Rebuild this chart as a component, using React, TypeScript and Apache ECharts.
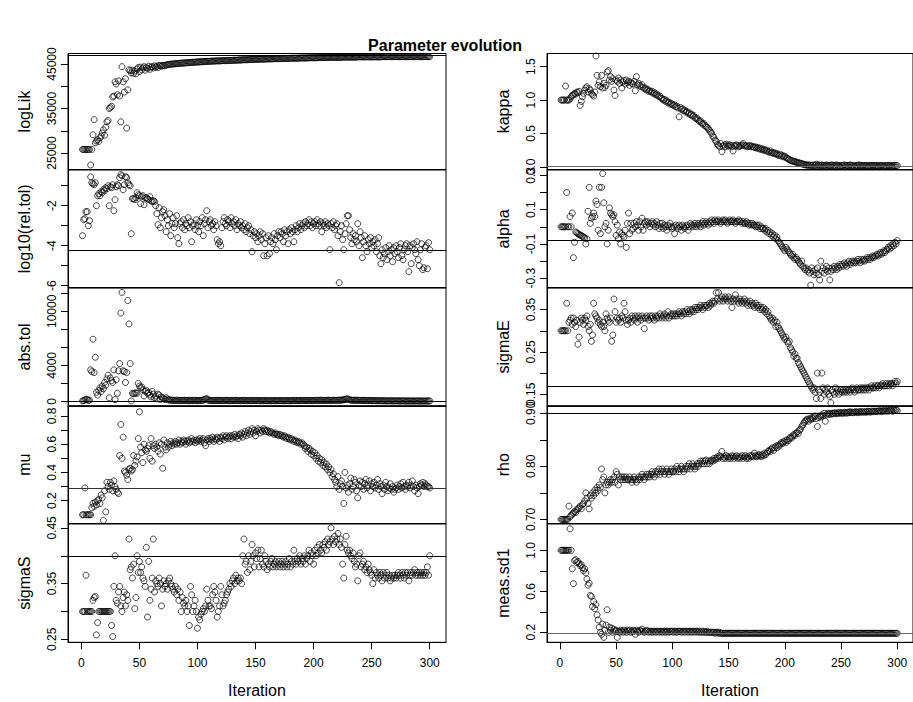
import React, { useEffect, useRef } from "react";
import * as echarts from "echarts";

const FONT = '"Liberation Sans", Arial, Helvetica, sans-serif';

const panelNames = ["logLik", "log10(rel.tol)", "abs.tol", "mu", "sigmaS", "kappa", "alpha", "sigmaE", "rho", "meas.sd1"];

const logLik = [
  25800, 25800, 25800, 25800, 25800, 25800, 25800, 22300, 25800, 29100,
  32500, 27300, 27700, 28000, 27600, 28400, 28800, 29500, 30200, 29000,
  30800, 32000, 32300, 35000, 35200, 35500, 37600, 37800, 41000, 40500,
  38100, 41200, 37800, 32000, 44400, 41000, 38700, 41700, 30600, 39200,
  43700, 43500, 43000, 43600, 42900, 43400, 42800, 43900, 44200, 43300,
  44300, 43700, 44100, 44400, 43600, 44200, 44000, 44500, 43800, 44300,
  44400, 44100, 44600, 44300, 44500, 44200, 44700, 44600, 44500, 44700,
  44700, 44600, 44800, 44800, 44900, 44900, 44950, 45000, 45000, 45050,
  45050, 45100, 45100, 45150, 45150, 45200, 45200, 45200, 45250, 45250,
  45300, 45300, 45300, 45350, 45350, 45400, 45400, 45400, 45450, 45450,
  45450, 45500, 45500, 45500, 45550, 45550, 45550, 45600, 45600, 45600,
  45600, 45650, 45650, 45650, 45650, 45700, 45700, 45700, 45700, 45700,
  45750, 45750, 45750, 45750, 45750, 45800, 45800, 45800, 45800, 45800,
  45850, 45850, 45850, 45850, 45900, 45900, 45900, 45900, 45950, 45950,
  45950, 45950, 45950, 46000, 46000, 46000, 46000, 46000, 46050, 46050,
  46050, 46050, 46050, 46100, 46100, 46100, 46100, 46100, 46100, 46150,
  46150, 46150, 46150, 46150, 46150, 46200, 46200, 46200, 46200, 46200,
  46200, 46200, 46250, 46250, 46250, 46250, 46250, 46250, 46250, 46300,
  46300, 46300, 46300, 46300, 46300, 46300, 46300, 46350, 46350, 46350,
  46350, 46350, 46350, 46350, 46350, 46400, 46400, 46400, 46400, 46400,
  46400, 46400, 46400, 46450, 46450, 46450, 46450, 46450, 46450, 46450,
  46450, 46450, 46500, 46500, 46500, 46500, 46500, 46500, 46500, 46500,
  46500, 46500, 46500, 46500, 46550, 46550, 46550, 46550, 46550, 46550,
  46550, 46550, 46550, 46550, 46550, 46550, 46550, 46600, 46600, 46600,
  46600, 46600, 46600, 46600, 46600, 46600, 46600, 46600, 46600, 46600,
  46600, 46600, 46600, 46600, 46600, 46600, 46600, 46600, 46650, 46650,
  46650, 46650, 46650, 46650, 46650, 46650, 46650, 46650, 46650, 46650,
  46650, 46650, 46650, 46650, 46650, 46650, 46650, 46650, 46650, 46650,
  46650, 46650, 46650, 46650, 46650, 46650, 46650, 46650, 46650, 46650,
  46650, 46650, 46650, 46650, 46650, 46650, 46650, 46650, 46650, 46650,
];

const relTol = [
  -3.5, -2.7, -2.65, -2.3, -2.3, -3.0, -2.75, -0.56, -0.85, -0.9,
  -0.95, -0.85, -2.0, -1.5, -1.4, -1.5, -1.3, -1.35, -1.2, -1.25,
  -1.1, -1.15, -1.0, -2.0, -1.05, -1.1, -0.95, -2.25, -1.7, -1.05,
  -0.95, -1.0, -0.6, -0.45, -0.5, -1.2, -0.95, -0.55, -0.6, -0.85,
  -0.95, -1.0, -3.4, -1.65, -1.65, -1.7, -1.6, -1.35, -1.45, -1.5,
  -1.9, -1.55, -1.5, -1.95, -1.6, -1.6, -1.65, -1.7, -1.55, -1.75,
  -1.8, -1.75, -1.8, -2.0, -2.4, -2.95, -2.1, -3.1, -2.6, -2.3,
  -2.2, -2.5, -3.3, -2.7, -3.0, -2.4, -3.5, -2.9, -2.6, -3.1,
  -2.9, -2.5, -3.6, -3.9, -2.9, -2.8, -3.1, -2.7, -3.2, -2.9,
  -3.0, -2.6, -3.1, -2.8, -3.8, -3.0, -2.9, -3.2, -2.7, -3.0,
  -3.3, -2.8, -3.0, -2.6, -3.5, -2.9, -2.7, -2.25, -3.1, -2.8,
  -2.7, -3.0, -2.9, -3.2, -2.8, -3.0, -3.7, -3.9, -3.8, -4.0,
  -3.1, -2.8, -2.6, -2.9, -3.0, -2.7, -2.8, -3.1, -2.6, -2.9,
  -2.8, -3.0, -2.7, -3.2, -2.9, -3.0, -2.8, -3.1, -3.0, -3.2,
  -2.9, -3.3, -3.1, -3.0, -3.4, -3.2, -4.3, -3.5, -3.3, -3.6,
  -3.4, -3.8, -3.5, -3.3, -3.7, -3.4, -4.5, -3.9, -3.6, -4.5,
  -3.5, -4.4, -3.8, -3.6, -3.9, -3.4, -3.7, -4.2, -3.5, -3.3,
  -3.6, -3.3, -3.4, -3.8, -3.2, -3.5, -3.3, -3.9, -3.2, -3.4,
  -3.1, -3.3, -3.8, -3.2, -3.0, -3.3, -3.1, -2.9, -3.2, -3.0,
  -2.9, -3.1, -2.8, -3.0, -2.9, -2.7, -3.0, -2.8, -3.1, -2.9,
  -2.8, -3.0, -2.7, -2.9, -3.0, -2.8, -3.3, -2.9, -3.0, -2.8,
  -3.1, -2.9, -3.0, -4.2, -2.9, -3.1, -2.8, -3.2, -3.0, -2.9,
  -3.5, -5.85, -3.3, -3.0, -3.7, -4.2, -3.4, -2.9, -2.5, -2.5,
  -3.2, -3.6, -3.9, -3.4, -3.7, -3.5, -3.8, -2.9, -4.0, -3.3,
  -3.6, -4.6, -3.8, -3.5, -4.0, -4.3, -3.7, -3.9, -3.6, -4.1,
  -3.8, -4.0, -3.7, -4.3, -3.9, -3.6, -4.5, -4.9, -4.2, -4.6,
  -4.4, -4.1, -4.7, -4.3, -4.0, -4.5, -4.2, -4.8, -4.1, -4.4,
  -4.0, -4.3, -4.6, -4.1, -3.9, -4.5, -4.7, -4.2, -4.0, -3.9,
  -4.3, -5.3, -4.0, -4.9, -4.1, -3.9, -4.2, -4.4, -3.8, -4.7,
  -5.0, -4.2, -3.9, -5.2, -5.1, -4.1, -4.0, -5.15, -3.85, -4.2,
];

const absTol = [
  50, 100, 150, 250, 200, 100, 150, 3500, 3300, 6900,
  3200, 4900, 1000, 700, 1200, 1500, 1100, 1700, 1400, 2100,
  1800, 2500, 2900, 400, 2600, 2300, 2100, 3500, 200, 2400,
  900, 3400, 4200, 9800, 12100, 3400, 3300, 2100, 3200, 11200,
  8600, 4200, 50, 900, 850, 900, 950, 900, 2000, 1700,
  1500, 1600, 1300, 600, 1100, 1200, 900, 1000, 700, 500,
  1100, 800, 400, 600, 300, 800, 700, 200, 500, 400,
  300, 200, 400, 250, 150, 200, 100, 150, 120, 100,
  100, 150, 80, 120, 100, 90, 110, 100, 130, 90,
  100, 120, 80, 100, 110, 90, 100, 120, 100, 80,
  100, 110, 90, 120, 150, 200, 250, 320, 180, 120,
  100, 90, 110, 100, 80, 100, 120, 90, 100, 110,
  100, 90, 110, 100, 120, 90, 100, 80, 100, 110,
  90, 100, 110, 100, 90, 100, 80, 100, 110, 90,
  100, 90, 80, 100, 90, 80, 90, 100, 80, 90,
  80, 90, 80, 70, 90, 80, 80, 90, 70, 80,
  90, 80, 70, 80, 90, 80, 70, 80, 90, 80,
  80, 90, 80, 70, 80, 90, 80, 80, 70, 90,
  80, 90, 100, 80, 90, 100, 90, 80, 100, 90,
  100, 90, 110, 100, 90, 100, 110, 100, 90, 100,
  110, 100, 120, 100, 110, 130, 100, 120, 110, 100,
  120, 110, 130, 120, 100, 110, 130, 120, 110, 120,
  130, 140, 120, 150, 160, 180, 200, 250, 300, 220,
  180, 150, 130, 120, 140, 120, 110, 130, 120, 110,
  100, 110, 120, 100, 90, 100, 110, 90, 100, 90,
  80, 90, 80, 70, 80, 70, 80, 70, 60, 70,
  60, 70, 60, 50, 60, 70, 60, 50, 60, 50,
  60, 50, 60, 50, 40, 50, 60, 50, 40, 50,
  50, 40, 50, 40, 50, 40, 50, 40, 50, 40,
  40, 50, 40, 50, 40, 40, 50, 40, 40, 50,
];

const mu = [
  0.10, 0.10, 0.29, 0.10, 0.10, 0.10, 0.10, 0.10, 0.15, 0.18,
  0.16, 0.19, 0.17, 0.20, 0.21, 0.18, 0.24, 0.22, 0.06, 0.27,
  0.12, 0.33, 0.30, 0.28, 0.33, 0.31, 0.27, 0.34, 0.30, 0.28,
  0.26, 0.25, 0.52, 0.74, 0.50, 0.65, 0.41, 0.40, 0.38, 0.35,
  0.42, 0.43, 0.41, 0.42, 0.52, 0.45, 0.48, 0.51, 0.64, 0.83,
  0.58, 0.54, 0.47, 0.60, 0.56, 0.55, 0.57, 0.59, 0.50, 0.64,
  0.48, 0.59, 0.57, 0.60, 0.58, 0.55, 0.61, 0.53, 0.60, 0.43,
  0.63, 0.58, 0.56, 0.61, 0.58, 0.60, 0.62, 0.59, 0.61, 0.60,
  0.62, 0.60, 0.61, 0.63, 0.60, 0.62, 0.61, 0.63, 0.62, 0.60,
  0.62, 0.63, 0.61, 0.62, 0.64, 0.62, 0.63, 0.61, 0.63, 0.62,
  0.63, 0.64, 0.62, 0.63, 0.64, 0.61, 0.59, 0.63, 0.64, 0.62,
  0.64, 0.63, 0.65, 0.62, 0.64, 0.63, 0.65, 0.64, 0.62, 0.65,
  0.64, 0.66, 0.63, 0.65, 0.66, 0.64, 0.65, 0.66, 0.64, 0.66,
  0.65, 0.67, 0.65, 0.66, 0.64, 0.67, 0.66, 0.68, 0.65, 0.67,
  0.69, 0.66, 0.68, 0.70, 0.67, 0.69, 0.71, 0.68, 0.70, 0.66,
  0.69, 0.71, 0.70, 0.68, 0.70, 0.69, 0.71, 0.70, 0.69, 0.70,
  0.69, 0.68, 0.69, 0.68, 0.68, 0.67, 0.68, 0.67, 0.67, 0.66,
  0.67, 0.66, 0.66, 0.65, 0.66, 0.65, 0.64, 0.65, 0.64, 0.63,
  0.64, 0.63, 0.62, 0.63, 0.62, 0.61, 0.62, 0.61, 0.60, 0.61,
  0.60, 0.59, 0.57, 0.58, 0.55, 0.57, 0.56, 0.53, 0.55, 0.52,
  0.54, 0.50, 0.52, 0.48, 0.50, 0.47, 0.49, 0.45, 0.47, 0.44,
  0.46, 0.42, 0.44, 0.40, 0.42, 0.37, 0.39, 0.35, 0.33, 0.30,
  0.37, 0.28, 0.32, 0.34, 0.30, 0.18, 0.40, 0.29, 0.31, 0.26,
  0.32, 0.36, 0.28, 0.30, 0.35, 0.33, 0.27, 0.22, 0.31, 0.34,
  0.30, 0.33, 0.28, 0.32, 0.35, 0.29, 0.31, 0.34, 0.27, 0.32,
  0.30, 0.33, 0.29, 0.31, 0.35, 0.28, 0.32, 0.30, 0.25, 0.31,
  0.28, 0.33, 0.30, 0.27, 0.29, 0.32, 0.28, 0.30, 0.26, 0.28,
  0.29, 0.31, 0.28, 0.30, 0.32, 0.29, 0.33, 0.30, 0.28, 0.31,
  0.30, 0.33, 0.29, 0.31, 0.34, 0.30, 0.27, 0.31, 0.29, 0.25,
  0.30, 0.32, 0.31, 0.33, 0.30, 0.32, 0.31, 0.30, 0.30, 0.29,
];

const sigmaS = [
  0.30, 0.30, 0.30, 0.365, 0.30, 0.30, 0.30, 0.30, 0.30, 0.32,
  0.325, 0.327, 0.258, 0.28, 0.30, 0.30, 0.30, 0.30, 0.30, 0.30,
  0.30, 0.30, 0.30, 0.30, 0.30, 0.275, 0.255, 0.345, 0.40, 0.32,
  0.315, 0.335, 0.345, 0.31, 0.30, 0.325, 0.335, 0.31, 0.33, 0.32,
  0.43, 0.375, 0.38, 0.36, 0.385, 0.305, 0.325, 0.40, 0.37, 0.39,
  0.37, 0.38, 0.36, 0.355, 0.345, 0.415, 0.29, 0.39, 0.32, 0.34,
  0.36, 0.43, 0.335, 0.355, 0.35, 0.345, 0.36, 0.35, 0.31, 0.34,
  0.355, 0.345, 0.35, 0.34, 0.355, 0.36, 0.35, 0.345, 0.34, 0.335,
  0.345, 0.33, 0.34, 0.32, 0.335, 0.30, 0.325, 0.315, 0.31, 0.32,
  0.30, 0.31, 0.275, 0.345, 0.33, 0.30, 0.31, 0.32, 0.30, 0.27,
  0.29, 0.285, 0.295, 0.30, 0.305, 0.30, 0.31, 0.34, 0.32, 0.31,
  0.31, 0.305, 0.33, 0.345, 0.335, 0.32, 0.29, 0.30, 0.31, 0.345,
  0.33, 0.31, 0.315, 0.32, 0.33, 0.335, 0.34, 0.35, 0.345, 0.355,
  0.36, 0.35, 0.365, 0.355, 0.36, 0.355, 0.36, 0.35, 0.40, 0.43,
  0.385, 0.39, 0.37, 0.40, 0.375, 0.39, 0.42, 0.40, 0.38, 0.405,
  0.395, 0.41, 0.38, 0.395, 0.41, 0.385, 0.38, 0.40, 0.39, 0.375,
  0.385, 0.38, 0.39, 0.395, 0.38, 0.385, 0.39, 0.38, 0.385, 0.39,
  0.38, 0.385, 0.39, 0.38, 0.385, 0.39, 0.38, 0.385, 0.395, 0.38,
  0.39, 0.385, 0.41, 0.39, 0.385, 0.395, 0.39, 0.40, 0.385, 0.395,
  0.39, 0.40, 0.385, 0.395, 0.40, 0.41, 0.39, 0.405, 0.40, 0.385,
  0.41, 0.40, 0.415, 0.405, 0.42, 0.41, 0.405, 0.42, 0.415, 0.425,
  0.41, 0.43, 0.42, 0.425, 0.45, 0.43, 0.42, 0.435, 0.425, 0.43,
  0.44, 0.42, 0.43, 0.415, 0.385, 0.36, 0.42, 0.435, 0.41, 0.405,
  0.41, 0.40, 0.395, 0.405, 0.39, 0.38, 0.385, 0.355, 0.40, 0.405,
  0.38, 0.385, 0.39, 0.375, 0.38, 0.37, 0.385, 0.375, 0.37, 0.365,
  0.35, 0.375, 0.36, 0.37, 0.365, 0.36, 0.37, 0.365, 0.355, 0.37,
  0.36, 0.365, 0.37, 0.36, 0.365, 0.355, 0.36, 0.365, 0.36, 0.365,
  0.36, 0.365, 0.37, 0.365, 0.36, 0.37, 0.365, 0.36, 0.37, 0.365,
  0.37, 0.355, 0.365, 0.37, 0.365, 0.37, 0.375, 0.365, 0.37, 0.365,
  0.37, 0.365, 0.37, 0.365, 0.37, 0.365, 0.37, 0.38, 0.365, 0.40,
];

const kappa = [
  1.0, 1.0, 1.0, 1.0, 1.21, 1.0, 1.0, 1.0, 1.02, 1.05,
  1.07, 1.08, 1.10, 1.09, 1.12, 1.11, 1.13, 0.92, 0.98, 1.05,
  1.10, 1.15, 1.18, 1.20, 1.12, 1.17, 1.15, 1.10, 1.08, 1.06,
  1.12, 1.66, 1.37, 1.22, 1.27, 1.20, 1.37, 1.18, 1.25, 1.19,
  1.22, 1.42, 1.44, 1.30, 1.35, 1.28, 1.32, 1.15, 1.07, 1.30,
  1.28, 1.33, 1.25, 1.30, 1.18, 1.27, 1.29, 1.24, 1.30, 1.26,
  1.28, 1.22, 1.27, 1.25, 1.24, 1.28, 1.14, 1.35, 1.23, 1.25,
  1.22, 1.20, 1.23, 1.19, 1.17, 1.18, 1.15, 1.16, 1.13, 1.14,
  1.12, 1.13, 1.10, 1.11, 1.08, 1.09, 1.07, 1.05, 1.06, 1.03,
  1.02, 1.00, 1.01, 0.98, 0.99, 0.96, 0.97, 0.94, 0.95, 0.93,
  0.92, 0.93, 0.90, 0.91, 0.88, 0.75, 0.89, 0.86, 0.87, 0.84,
  0.85, 0.82, 0.83, 0.80, 0.81, 0.78, 0.79, 0.76, 0.77, 0.74,
  0.72, 0.73, 0.70, 0.68, 0.69, 0.66, 0.64, 0.65, 0.62, 0.60,
  0.59, 0.57, 0.55, 0.52, 0.50, 0.46, 0.44, 0.40, 0.38, 0.34,
  0.32, 0.30, 0.35, 0.23, 0.31, 0.33, 0.30, 0.34, 0.32, 0.31,
  0.33, 0.32, 0.30, 0.24, 0.32, 0.31, 0.33, 0.32, 0.30, 0.31,
  0.32, 0.33, 0.35, 0.32, 0.31, 0.32, 0.30, 0.31, 0.32, 0.30,
  0.31, 0.30, 0.29, 0.30, 0.28, 0.29, 0.27, 0.28, 0.26, 0.27,
  0.25, 0.26, 0.24, 0.25, 0.23, 0.22, 0.24, 0.21, 0.22, 0.20,
  0.21, 0.19, 0.20, 0.18, 0.17, 0.19, 0.16, 0.17, 0.15, 0.16,
  0.14, 0.13, 0.12, 0.11, 0.10, 0.09, 0.09, 0.08, 0.08, 0.07,
  0.07, 0.06, 0.06, 0.05, 0.05, 0.04, 0.04, 0.03, 0.03, 0.03,
  0.02, 0.03, 0.02, 0.02, 0.03, 0.02, 0.02, 0.04, 0.02, 0.03,
  0.02, 0.02, 0.03, 0.02, 0.02, 0.02, 0.03, 0.02, 0.02, 0.02,
  0.02, 0.03, 0.02, 0.02, 0.02, 0.03, 0.02, 0.02, 0.01, 0.02,
  0.02, 0.02, 0.03, 0.02, 0.02, 0.02, 0.02, 0.03, 0.02, 0.02,
  0.02, 0.01, 0.02, 0.02, 0.02, 0.03, 0.02, 0.02, 0.02, 0.02,
  0.02, 0.02, 0.02, 0.01, 0.02, 0.02, 0.02, 0.02, 0.02, 0.02,
  0.02, 0.02, 0.01, 0.02, 0.02, 0.02, 0.02, 0.01, 0.02, 0.02,
  0.02, 0.02, 0.02, 0.02, 0.01, 0.02, 0.02, 0.02, 0.02, 0.02,
];

const alpha = [
  0.0, 0.0, 0.0, 0.0, 0.0, 0.2, 0.0, 0.0, 0.06, 0.0,
  0.08, -0.18, -0.09, -0.03, -0.035, -0.04, -0.045, -0.05, -0.05, -0.055,
  -0.06, -0.065, -0.1, -0.07, 0.09, 0.23, 0.02, 0.05, 0.06, 0.08,
  0.06, 0.15, 0.13, -0.02, 0.23, -0.04, 0.23, 0.31, 0.14, 0.0,
  0.02, -0.1, -0.02, 0.11, 0.08, 0.07, 0.06, 0.07, 0.03, -0.05,
  0.01, -0.07, -0.03, -0.1, -0.04, -0.05, -0.06, -0.02, -0.12, 0.02,
  0.08, -0.04, 0.02, -0.02, -0.01, 0.02, 0.0, 0.03, 0.01, -0.02,
  0.03, 0.0, 0.05, -0.02, 0.02, 0.03, 0.01, 0.03, 0.02, 0.0,
  0.02, 0.03, 0.01, 0.02, 0.0, 0.03, 0.01, -0.01, 0.02, 0.0,
  0.02, -0.01, 0.01, 0.0, -0.02, 0.01, 0.0, 0.02, 0.0, -0.01,
  0.0, -0.04, 0.01, 0.0, -0.01, 0.01, 0.0, -0.02, 0.01, 0.0,
  -0.01, 0.0, 0.01, -0.02, 0.0, 0.02, 0.01, 0.0, 0.01, 0.02,
  0.0, 0.01, 0.02, 0.01, 0.0, 0.02, 0.03, 0.01, 0.02, 0.03,
  0.02, 0.01, 0.03, 0.02, 0.04, 0.03, 0.02, 0.04, 0.03, 0.03,
  0.04, 0.03, 0.02, 0.03, 0.04, 0.03, 0.04, 0.03, 0.02, 0.03,
  0.04, 0.03, 0.03, 0.04, 0.03, 0.02, 0.03, 0.03, 0.04, 0.03,
  0.03, 0.02, 0.03, 0.02, 0.02, 0.03, 0.02, 0.01, 0.02, 0.01,
  0.02, 0.01, 0.01, 0.0, 0.01, 0.0, 0.01, -0.01, 0.0, -0.01,
  -0.01, -0.02, -0.01, -0.03, -0.02, -0.04, -0.03, -0.05, -0.04, -0.06,
  -0.05, -0.07, -0.06, -0.08, -0.09, -0.1, -0.11, -0.12, -0.13, -0.14,
  -0.12, -0.13, -0.14, -0.15, -0.16, -0.17, -0.16, -0.18, -0.19, -0.18,
  -0.19, -0.2, -0.21, -0.22, -0.2, -0.23, -0.24, -0.25, -0.24, -0.26,
  -0.25, -0.27, -0.34, -0.24, -0.26, -0.28, -0.25, -0.27, -0.24, -0.28,
  -0.31, -0.2, -0.26, -0.24, -0.27, -0.25, -0.23, -0.26, -0.24, -0.31,
  -0.26, -0.24, -0.25, -0.23, -0.24, -0.25, -0.23, -0.24, -0.22, -0.23,
  -0.22, -0.23, -0.21, -0.22, -0.23, -0.21, -0.2, -0.22, -0.21, -0.2,
  -0.21, -0.2, -0.21, -0.2, -0.19, -0.2, -0.21, -0.19, -0.2, -0.19,
  -0.2, -0.19, -0.18, -0.19, -0.18, -0.19, -0.18, -0.17, -0.18, -0.17,
  -0.17, -0.16, -0.17, -0.16, -0.15, -0.16, -0.15, -0.14, -0.15, -0.14,
  -0.13, -0.12, -0.13, -0.11, -0.12, -0.1, -0.11, -0.09, -0.1, -0.08,
];

const sigmaE = [
  0.30, 0.30, 0.30, 0.30, 0.30, 0.365, 0.30, 0.32, 0.325, 0.33,
  0.315, 0.33, 0.32, 0.31, 0.325, 0.268, 0.285, 0.32, 0.33, 0.325,
  0.315, 0.33, 0.325, 0.335, 0.31, 0.30, 0.315, 0.275, 0.29, 0.365,
  0.34, 0.335, 0.33, 0.32, 0.325, 0.315, 0.31, 0.32, 0.31, 0.30,
  0.34, 0.33, 0.325, 0.32, 0.33, 0.275, 0.29, 0.375, 0.345, 0.32,
  0.33, 0.325, 0.33, 0.32, 0.335, 0.33, 0.365, 0.345, 0.325, 0.315,
  0.325, 0.33, 0.32, 0.335, 0.33, 0.325, 0.335, 0.33, 0.32, 0.335,
  0.33, 0.325, 0.335, 0.33, 0.305, 0.33, 0.335, 0.33, 0.325, 0.335,
  0.33, 0.335, 0.33, 0.325, 0.335, 0.33, 0.335, 0.33, 0.34, 0.335,
  0.33, 0.335, 0.34, 0.33, 0.335, 0.345, 0.33, 0.335, 0.34, 0.335,
  0.34, 0.335, 0.34, 0.335, 0.34, 0.345, 0.34, 0.335, 0.345, 0.34,
  0.345, 0.34, 0.35, 0.345, 0.34, 0.35, 0.345, 0.35, 0.345, 0.355,
  0.35, 0.355, 0.35, 0.355, 0.36, 0.355, 0.35, 0.36, 0.355, 0.36,
  0.36, 0.355, 0.365, 0.36, 0.365, 0.37, 0.365, 0.37, 0.39, 0.375,
  0.39, 0.37, 0.375, 0.38, 0.37, 0.375, 0.38, 0.375, 0.37, 0.38,
  0.375, 0.37, 0.355, 0.375, 0.37, 0.385, 0.375, 0.37, 0.365, 0.375,
  0.37, 0.365, 0.37, 0.375, 0.365, 0.37, 0.36, 0.365, 0.37, 0.36,
  0.365, 0.36, 0.355, 0.365, 0.36, 0.355, 0.36, 0.35, 0.355, 0.35,
  0.355, 0.345, 0.35, 0.34, 0.345, 0.335, 0.33, 0.325, 0.33, 0.32,
  0.325, 0.31, 0.32, 0.31, 0.305, 0.30, 0.295, 0.29, 0.285, 0.28,
  0.285, 0.275, 0.27, 0.275, 0.26, 0.255, 0.25, 0.24, 0.245, 0.235,
  0.235, 0.225, 0.22, 0.215, 0.21, 0.205, 0.20, 0.195, 0.19, 0.185,
  0.18, 0.175, 0.17, 0.165, 0.16, 0.165, 0.155, 0.14, 0.20, 0.16,
  0.155, 0.14, 0.20, 0.165, 0.15, 0.16, 0.155, 0.165, 0.15, 0.145,
  0.13, 0.16, 0.155, 0.15, 0.165, 0.155, 0.16, 0.15, 0.155, 0.16,
  0.155, 0.16, 0.155, 0.16, 0.155, 0.16, 0.16, 0.155, 0.16, 0.165,
  0.16, 0.155, 0.16, 0.165, 0.16, 0.16, 0.165, 0.16, 0.165, 0.16,
  0.165, 0.16, 0.165, 0.165, 0.16, 0.165, 0.17, 0.165, 0.165, 0.17,
  0.165, 0.17, 0.17, 0.165, 0.17, 0.17, 0.175, 0.17, 0.17, 0.175,
  0.17, 0.175, 0.17, 0.175, 0.175, 0.17, 0.175, 0.18, 0.175, 0.18,
];

const rho = [
  0.70, 0.70, 0.70, 0.70, 0.70, 0.70, 0.70, 0.725, 0.705, 0.708,
  0.71, 0.712, 0.715, 0.713, 0.718, 0.72, 0.722, 0.725, 0.72, 0.728,
  0.73, 0.735, 0.75, 0.74, 0.73, 0.72, 0.745, 0.74, 0.75, 0.745,
  0.755, 0.75, 0.76, 0.755, 0.765, 0.76, 0.795, 0.775, 0.78, 0.75,
  0.765, 0.77, 0.765, 0.77, 0.775, 0.77, 0.775, 0.78, 0.77, 0.79,
  0.785, 0.765, 0.78, 0.775, 0.78, 0.775, 0.78, 0.775, 0.78, 0.775,
  0.775, 0.78, 0.775, 0.77, 0.775, 0.78, 0.775, 0.77, 0.775, 0.78,
  0.775, 0.78, 0.785, 0.78, 0.775, 0.78, 0.785, 0.78, 0.785, 0.78,
  0.785, 0.79, 0.785, 0.78, 0.79, 0.785, 0.79, 0.795, 0.785, 0.79,
  0.795, 0.79, 0.785, 0.79, 0.795, 0.79, 0.785, 0.79, 0.795, 0.79,
  0.79, 0.795, 0.79, 0.80, 0.795, 0.79, 0.795, 0.80, 0.795, 0.79,
  0.795, 0.80, 0.795, 0.80, 0.805, 0.795, 0.80, 0.805, 0.80, 0.795,
  0.80, 0.805, 0.80, 0.805, 0.81, 0.805, 0.81, 0.805, 0.81, 0.812,
  0.805, 0.81, 0.805, 0.81, 0.812, 0.81, 0.815, 0.812, 0.815, 0.818,
  0.815, 0.82, 0.818, 0.828, 0.815, 0.818, 0.815, 0.82, 0.818, 0.815,
  0.818, 0.815, 0.82, 0.818, 0.815, 0.818, 0.82, 0.815, 0.818, 0.815,
  0.818, 0.82, 0.815, 0.818, 0.82, 0.815, 0.818, 0.815, 0.82, 0.818,
  0.82, 0.818, 0.825, 0.82, 0.818, 0.82, 0.822, 0.82, 0.818, 0.822,
  0.82, 0.825, 0.822, 0.825, 0.828, 0.83, 0.828, 0.832, 0.835, 0.83,
  0.835, 0.838, 0.835, 0.84, 0.838, 0.842, 0.845, 0.843, 0.846, 0.848,
  0.845, 0.85, 0.848, 0.852, 0.855, 0.853, 0.857, 0.86, 0.858, 0.862,
  0.865, 0.862, 0.868, 0.87, 0.875, 0.878, 0.882, 0.885, 0.887, 0.889,
  0.885, 0.89, 0.888, 0.892, 0.89, 0.893, 0.895, 0.89, 0.875, 0.892,
  0.895, 0.893, 0.897, 0.895, 0.90, 0.885, 0.897, 0.90, 0.898, 0.90,
  0.898, 0.90, 0.899, 0.901, 0.90, 0.899, 0.901, 0.90, 0.902, 0.90,
  0.901, 0.90, 0.902, 0.901, 0.90, 0.902, 0.901, 0.903, 0.901, 0.902,
  0.901, 0.902, 0.903, 0.902, 0.901, 0.903, 0.902, 0.903, 0.902, 0.903,
  0.902, 0.903, 0.902, 0.904, 0.903, 0.902, 0.904, 0.903, 0.904, 0.903,
  0.904, 0.903, 0.904, 0.905, 0.904, 0.903, 0.905, 0.904, 0.905, 0.904,
  0.905, 0.904, 0.905, 0.906, 0.905, 0.904, 0.906, 0.905, 0.906, 0.905,
];

const measSd1 = [
  1.0, 1.0, 1.0, 1.0, 1.0, 1.0, 1.0, 1.0, 1.21, 1.0,
  0.82, 0.675, 0.90, 0.91, 0.88, 0.89, 0.87, 0.85, 0.86, 0.83,
  0.80, 0.82, 0.78, 0.72, 0.66, 0.68, 0.56, 0.55, 0.45, 0.50,
  0.43, 0.47, 0.37, 0.32, 0.25, 0.20, 0.18, 0.28, 0.15, 0.22,
  0.27, 0.42, 0.20, 0.25, 0.22, 0.24, 0.20, 0.23, 0.21, 0.22,
  0.15, 0.21, 0.20, 0.22, 0.21, 0.20, 0.22, 0.21, 0.20, 0.22,
  0.21, 0.22, 0.20, 0.21, 0.22, 0.21, 0.18, 0.22, 0.21, 0.20,
  0.22, 0.21, 0.23, 0.21, 0.20, 0.21, 0.22, 0.21, 0.20, 0.21,
  0.21, 0.20, 0.21, 0.21, 0.20, 0.21, 0.21, 0.20, 0.21, 0.21,
  0.20, 0.21, 0.21, 0.20, 0.21, 0.21, 0.20, 0.21, 0.21, 0.21,
  0.20, 0.21, 0.21, 0.20, 0.21, 0.21, 0.21, 0.20, 0.21, 0.21,
  0.20, 0.21, 0.21, 0.20, 0.21, 0.21, 0.20, 0.21, 0.21, 0.20,
  0.21, 0.21, 0.20, 0.21, 0.20, 0.21, 0.20, 0.21, 0.20, 0.20,
  0.21, 0.20, 0.20, 0.20, 0.20, 0.20, 0.20, 0.19, 0.20, 0.20,
  0.19, 0.20, 0.19, 0.19, 0.19, 0.19, 0.19, 0.19, 0.19, 0.19,
  0.19, 0.19, 0.19, 0.19, 0.19, 0.19, 0.19, 0.19, 0.19, 0.19,
  0.19, 0.19, 0.19, 0.19, 0.19, 0.19, 0.19, 0.19, 0.19, 0.19,
  0.19, 0.19, 0.19, 0.19, 0.19, 0.19, 0.19, 0.19, 0.19, 0.19,
  0.19, 0.19, 0.19, 0.19, 0.19, 0.19, 0.19, 0.19, 0.19, 0.19,
  0.19, 0.19, 0.19, 0.19, 0.19, 0.19, 0.19, 0.19, 0.19, 0.19,
  0.19, 0.19, 0.19, 0.19, 0.19, 0.19, 0.19, 0.19, 0.19, 0.19,
  0.19, 0.19, 0.19, 0.19, 0.19, 0.19, 0.19, 0.19, 0.19, 0.19,
  0.19, 0.19, 0.19, 0.19, 0.19, 0.19, 0.19, 0.19, 0.19, 0.19,
  0.19, 0.19, 0.19, 0.19, 0.19, 0.19, 0.19, 0.19, 0.19, 0.19,
  0.19, 0.19, 0.19, 0.19, 0.19, 0.19, 0.19, 0.19, 0.19, 0.19,
  0.19, 0.19, 0.19, 0.19, 0.19, 0.19, 0.19, 0.19, 0.19, 0.19,
  0.19, 0.19, 0.19, 0.19, 0.19, 0.19, 0.19, 0.19, 0.19, 0.19,
  0.19, 0.19, 0.19, 0.19, 0.19, 0.19, 0.19, 0.19, 0.19, 0.19,
  0.19, 0.19, 0.19, 0.19, 0.19, 0.19, 0.19, 0.19, 0.19, 0.19,
  0.19, 0.19, 0.19, 0.19, 0.19, 0.19, 0.19, 0.19, 0.19, 0.19,
];

const panelData = [logLik, relTol, absTol, mu, sigmaS, kappa, alpha, sigmaE, rho, measSd1];
const trueValues = [46870, -4.21, 0, 0.29, 0.40, 0.01, -0.084, 0.175, 0.903, 0.186];
const yMins = [21292, -6.1, -490, 0.038, 0.2447, -0.039, -0.355, 0.1227, 0.6923, 0.102];
const yMaxs = [47360, -0.215, 12590, 0.871, 0.457, 1.697, 0.331, 0.401, 0.9137, 1.257];
const yTickValues = [
  [25000, 30000, 35000, 40000, 45000],
  [-6, -5, -4, -3, -2, -1],
  [0, 2000, 4000, 6000, 8000, 10000, 12000],
  [0.2, 0.3, 0.4, 0.5, 0.6, 0.7, 0.8],
  [0.25, 0.3, 0.35, 0.4, 0.45],
  [0, 0.5, 1.0, 1.5],
  [-0.3, -0.2, -0.1, 0, 0.1, 0.2, 0.3],
  [0.15, 0.2, 0.25, 0.3, 0.35],
  [0.7, 0.75, 0.8, 0.85, 0.9],
  [0.2, 0.4, 0.6, 0.8, 1.0],
];
const yLabelValues = [
  [25000, 35000, 45000],
  [-6, -4, -2],
  [0, 4000, 10000],
  [0.2, 0.4, 0.6, 0.8],
  [0.25, 0.35, 0.45],
  [0, 0.5, 1.0, 1.5],
  [-0.3, -0.1, 0.1, 0.3],
  [0.15, 0.25, 0.35],
  [0.7, 0.8, 0.9],
  [0.2, 0.6, 1.0],
];
const yLabelDecimals = [0, 0, 0, 1, 2, 1, 1, 2, 2, 1];
const lineColors = ["#000", "#000", "#000", "#333", "#000", "#666", "#000", "#000", "#000", "#666"];
const xTickValues = [0, 50, 100, 150, 200, 250, 300];

export default function App() {
  const ref = useRef<HTMLDivElement>(null);
  useEffect(() => {
    if (!ref.current) return;
    const chart = echarts.init(ref.current, null, { renderer: "svg" });
    const colLefts = [68, 547];
    const colWidth = 378;
    const rowTops = [53.5, 170, 288, 406, 524];
    const rowBottoms = [169.5, 287.7, 405.8, 523.5, 642.3];
    const grids: any[] = [];
    const xAxes: any[] = [];
    const yAxes: any[] = [];
    const series: any[] = [];
    panelNames.forEach((name, k) => {
      const col = k < 5 ? 0 : 1;
      const row = k % 5;
      const isBottom = row === 4;
      grids.push({
        left: colLefts[col],
        top: rowTops[row],
        width: colWidth,
        height: rowBottoms[row] - rowTops[row],
        show: true,
        borderColor: "#000",
        borderWidth: 1,
        backgroundColor: "transparent",
        containLabel: false,
      });
      xAxes.push({
        gridIndex: k,
        type: "value",
        min: -11.5,
        max: 314,
        axisLine: { show: true, onZero: false, lineStyle: { color: "#000", width: 1 } },
        splitLine: { show: false },
        axisTick: { show: isBottom, customValues: xTickValues, length: 7, lineStyle: { color: "#000" } },
        axisLabel: {
          show: isBottom,
          customValues: xTickValues,
          margin: 15,
          fontSize: 12,
          color: "#000",
          fontFamily: FONT,
        },
        name: isBottom ? "Iteration" : "",
        nameLocation: "middle",
        nameGap: 40,
        nameTextStyle: { fontSize: 16, color: "#000", fontFamily: FONT },
      });
      const dec = yLabelDecimals[k];
      yAxes.push({
        gridIndex: k,
        type: "value",
        min: yMins[k],
        max: yMaxs[k],
        axisLine: { show: true, onZero: false, lineStyle: { color: "#000", width: 1 } },
        splitLine: { show: false },
        axisTick: { show: true, customValues: yTickValues[k], length: 7, lineStyle: { color: "#000" } },
        axisLabel: {
          show: true,
          customValues: yLabelValues[k],
          rotate: 90,
          margin: 10,
          fontSize: 12,
          color: "#000",
          fontFamily: FONT,
          formatter: (v: number) => v.toFixed(dec),
        },
        name,
        nameLocation: "middle",
        nameRotate: 90,
        nameGap: 36,
        nameTextStyle: { fontSize: 16, color: "#000", fontFamily: FONT },
      });
      series.push({
        type: "scatter",
        xAxisIndex: k,
        yAxisIndex: k,
        data: panelData[k].map((v, i) => [i + 1, v]),
        symbol: "circle",
        symbolSize: 6,
        clip: false,
        itemStyle: { color: "transparent", borderColor: "#000", borderWidth: 0.9 },
        silent: true,
        markLine: {
          silent: true,
          symbol: "none",
          animation: false,
          label: { show: false },
          lineStyle: { color: lineColors[k], width: 1, type: "solid" },
          data: [{ yAxis: trueValues[k] }],
        },
      });
    });
    chart.setOption({
      animation: false,
      backgroundColor: "#fff",
      grid: grids,
      xAxis: xAxes,
      yAxis: yAxes,
      series,
      graphic: [
        {
          type: "text",
          x: 445,
          y: 45,
          style: {
            text: "Parameter evolution",
            fontSize: 16,
            fontWeight: "bold",
            fontFamily: FONT,
            fill: "#000",
            align: "center",
            verticalAlign: "middle",
          },
        },
      ],
    });
    return () => chart.dispose();
  }, []);
  return (
    <div
      ref={ref}
      style={{ position: "absolute", left: 0, top: 0, width: 913, height: 702, background: "#fff" }}
    />
  );
}
